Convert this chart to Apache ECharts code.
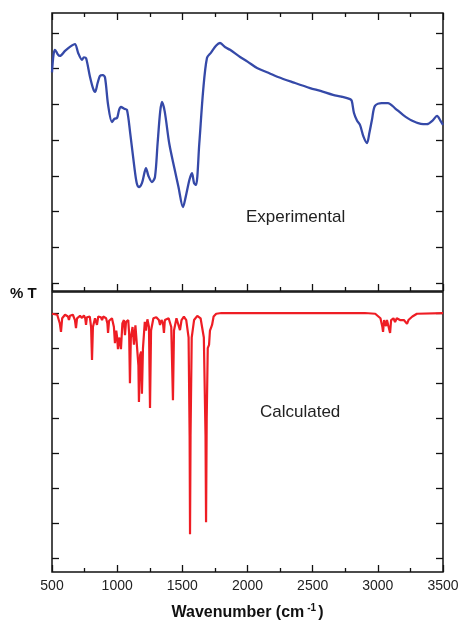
<!DOCTYPE html>
<html>
  <head>
    <meta charset="utf-8" />
    <title>IR spectra</title>
    <script src="https://cdn.jsdelivr.net/npm/echarts@6.0.0/dist/echarts.min.js"></script>
  </head>
  <body>
    <style>
      html, body { margin: 0; padding: 0; background: #fff; }
      #main { width: 461px; height: 627px; }
    </style>
    <div id="main"></div>
    <script type="text/javascript">
      // experimental spectrum (wavenumber, %T in tick units)
      var expX = [500, 512, 523, 545, 561, 600, 640, 676, 700, 730, 745, 761, 790, 815, 830, 850, 868, 890, 907,
        930, 960, 980, 999, 1015, 1029, 1055, 1075, 1100, 1130, 1150, 1167, 1190, 1210, 1221, 1240, 1267, 1290,
        1310, 1330, 1344, 1365, 1400, 1440, 1470, 1505, 1525, 1555, 1574, 1590, 1605, 1630, 1660, 1689, 1720,
        1760, 1789, 1830, 1866, 1943, 2000, 2073, 2150, 2234, 2350, 2480, 2560, 2656, 2720, 2787, 2800, 2817,
        2840, 2863, 2890, 2917, 2935, 2955, 2978, 3030, 3078, 3130, 3193, 3260, 3330, 3377, 3420, 3454, 3480, 3500];
      var expY = [5.9, 6.4, 6.53, 6.4, 6.36, 6.5, 6.62, 6.69, 6.45, 6.25, 6.32, 6.3, 5.8, 5.45, 5.35, 5.6, 5.8, 5.82, 5.75,
        5.0, 4.51, 4.6, 4.62, 4.85, 4.93, 4.88, 4.85, 4.2, 3.3, 2.8, 2.69, 2.8, 3.1, 3.22, 3.0, 2.83, 2.97,
        3.9, 4.8, 5.07, 4.8, 3.9, 3.2, 2.7, 2.13, 2.4, 2.9, 3.08, 2.8, 2.75, 3.9, 5.4, 6.3, 6.45,
        6.65, 6.72, 6.6, 6.53, 6.33, 6.2, 6.02, 5.9, 5.77, 5.62, 5.46, 5.38, 5.27, 5.22, 5.15, 5.1, 4.76,
        4.55, 4.43, 4.1, 3.92, 4.2, 4.57, 4.96, 5.04, 5.04, 4.9, 4.71, 4.55, 4.46, 4.45, 4.55, 4.68, 4.55, 4.43];

      // calculated spectrum
      var calcX = [500, 540, 560, 569, 578, 600, 622, 630, 638, 660, 676, 684, 692, 715, 730, 745, 755, 761, 768,
        790, 800, 807, 814, 830, 845, 855, 875, 884, 893, 915, 925, 930, 938, 960, 975, 983, 993, 1000, 1006,
        1015, 1022, 1029, 1040, 1052, 1060, 1068, 1085, 1092, 1098, 1105, 1118, 1129, 1140, 1155, 1163, 1167,
        1176, 1184, 1190, 1198, 1212, 1221, 1232, 1244, 1252, 1260, 1278, 1290, 1300, 1320, 1329, 1340, 1352,
        1359, 1366, 1395, 1415, 1428, 1436, 1455, 1470, 1482, 1494, 1512, 1530, 1548, 1556, 1559, 1563, 1572,
        1590, 1615, 1640, 1665, 1678, 1682, 1687, 1695, 1705, 1712, 1722, 1728, 1740, 1760, 1800, 2900, 2980,
        3020, 3035, 3040, 3048, 3056, 3063, 3070, 3085, 3094, 3102, 3120, 3132, 3145, 3160, 3170, 3180, 3200,
        3215, 3224, 3235, 3247, 3265, 3300, 3500];
      var calcY = [6.98, 6.95, 6.7, 6.46, 6.85, 6.95, 6.9, 6.8, 6.92, 6.95, 6.8, 6.57, 6.85, 6.92, 6.86, 6.93, 6.85, 6.66, 6.88,
        6.9, 6.6, 5.66, 6.6, 6.85, 6.66, 6.9, 6.88, 6.8, 6.9, 6.85, 6.7, 6.43, 6.78, 6.85, 6.6, 6.14, 6.5, 6.3, 5.97,
        6.3, 6.2, 5.97, 6.7, 6.8, 6.37, 6.75, 6.8, 6.4, 5.0, 6.3, 6.6, 6.1, 6.65, 6.7, 5.5, 4.46,
        5.8, 5.9, 4.7, 6.0, 6.75, 6.5, 6.82, 6.6, 4.29, 6.5, 6.85, 6.8, 6.88, 6.8, 6.66, 6.8, 6.7,
        6.43, 6.8, 6.85, 6.6, 4.51, 6.5, 6.85, 6.8, 6.51, 6.8, 6.9, 6.8, 6.3, 3.5, 0.69, 3.5, 6.3,
        6.8, 6.92, 6.85, 6.3, 3.5, 1.03, 4.0, 6.0, 6.09, 6.5, 6.6, 6.66, 6.9, 6.98, 7.0, 7.0, 6.98,
        6.85, 6.6, 6.46, 6.8, 6.7, 6.63, 6.8, 6.75, 6.43, 6.8, 6.85, 6.74, 6.85, 6.82, 6.8, 6.85, 6.8,
        6.85, 6.69, 6.8, 6.8, 6.9, 6.98, 7.0];

      var yTicks = [0, 1, 2, 3, 4, 5, 6, 7];

      function pairs(xs, ys) {
        return xs.map(function (x, i) { return [x, ys[i]]; });
      }

      var chart = echarts.init(document.getElementById('main'), null, { renderer: 'canvas' });

      var font = 'Arial, "Liberation Sans", sans-serif';

      function xAxis(grid, pos, showLabel, name) {
        return {
          type: 'value', gridIndex: grid, position: pos,
          min: 500, max: 3500, interval: 500,
          axisLine: { show: false, onZero: false },
          axisTick: { show: true, inside: true, length: 7, lineStyle: { color: '#111', width: 1.3 } },
          minorTick: { show: true, splitNumber: 2, length: 4, lineStyle: { color: '#111', width: 1.3 } },
          splitLine: { show: false },
          axisLabel: {
            show: showLabel, color: '#222', fontSize: 14, fontFamily: font, margin: 7,
            formatter: function (v) { return String(v); }
          },
          name: name || '',
          nameLocation: 'middle',
          nameGap: 31,
          nameTextStyle: {
            color: '#111', fontSize: 16, fontWeight: 'bold', fontFamily: font,
            rich: { sup: { fontSize: 10, fontWeight: 'bold', verticalAlign: 'top', padding: [0, 2, 9, 3], fontFamily: font } }
          }
        };
      }

      function yAxis(grid, pos, min, max) {
        return {
          type: 'value', gridIndex: grid, position: pos,
          min: min, max: max,
          axisLine: { show: false, onZero: false },
          axisTick: { show: true, inside: true, length: 7, customValues: yTicks, lineStyle: { color: '#111', width: 1.3 } },
          axisLabel: { show: false },
          splitLine: { show: false }
        };
      }

      var option = {
        animation: false,
        backgroundColor: '#fff',
        grid: [
          { left: 52, right: 18, top: 13, height: 278, show: true, borderColor: '#111', borderWidth: 1.5, outerBoundsMode: 'none', containLabel: false },
          { left: 52, right: 18, top: 292, height: 280, show: true, borderColor: '#111', borderWidth: 1.5, outerBoundsMode: 'none', containLabel: false }
        ],
        xAxis: [
          xAxis(0, 'bottom', false),
          xAxis(0, 'top', false),
          xAxis(1, 'bottom', true, 'Wavenumber (cm{sup|-1})')
        ],
        yAxis: [
          yAxis(0, 'left', -0.22, 7.56),
          yAxis(0, 'right', -0.22, 7.56),
          yAxis(1, 'left', -0.39, 7.6),
          yAxis(1, 'right', -0.39, 7.6)
        ],
        graphic: [
          { type: 'text', left: 10, top: 286, style: { text: '% T', fill: '#111', font: 'bold 15px ' + font } },
          { type: 'text', left: 246, top: 209, style: { text: 'Experimental', fill: '#222', font: '17px ' + font } },
          { type: 'text', left: 260, top: 404, style: { text: 'Calculated', fill: '#222', font: '17px ' + font } }
        ],
        series: [
          {
            type: 'line', xAxisIndex: 0, yAxisIndex: 0, data: pairs(expX, expY),
            showSymbol: false, smooth: 0.3,
            lineStyle: { color: '#3549a8', width: 2.3 }
          },
          {
            type: 'line', xAxisIndex: 2, yAxisIndex: 2, data: pairs(calcX, calcY),
            showSymbol: false,
            lineStyle: { color: '#ee1d24', width: 2.2 }
          }
        ]
      };

      chart.setOption(option);
    </script>
  </body>
</html>
